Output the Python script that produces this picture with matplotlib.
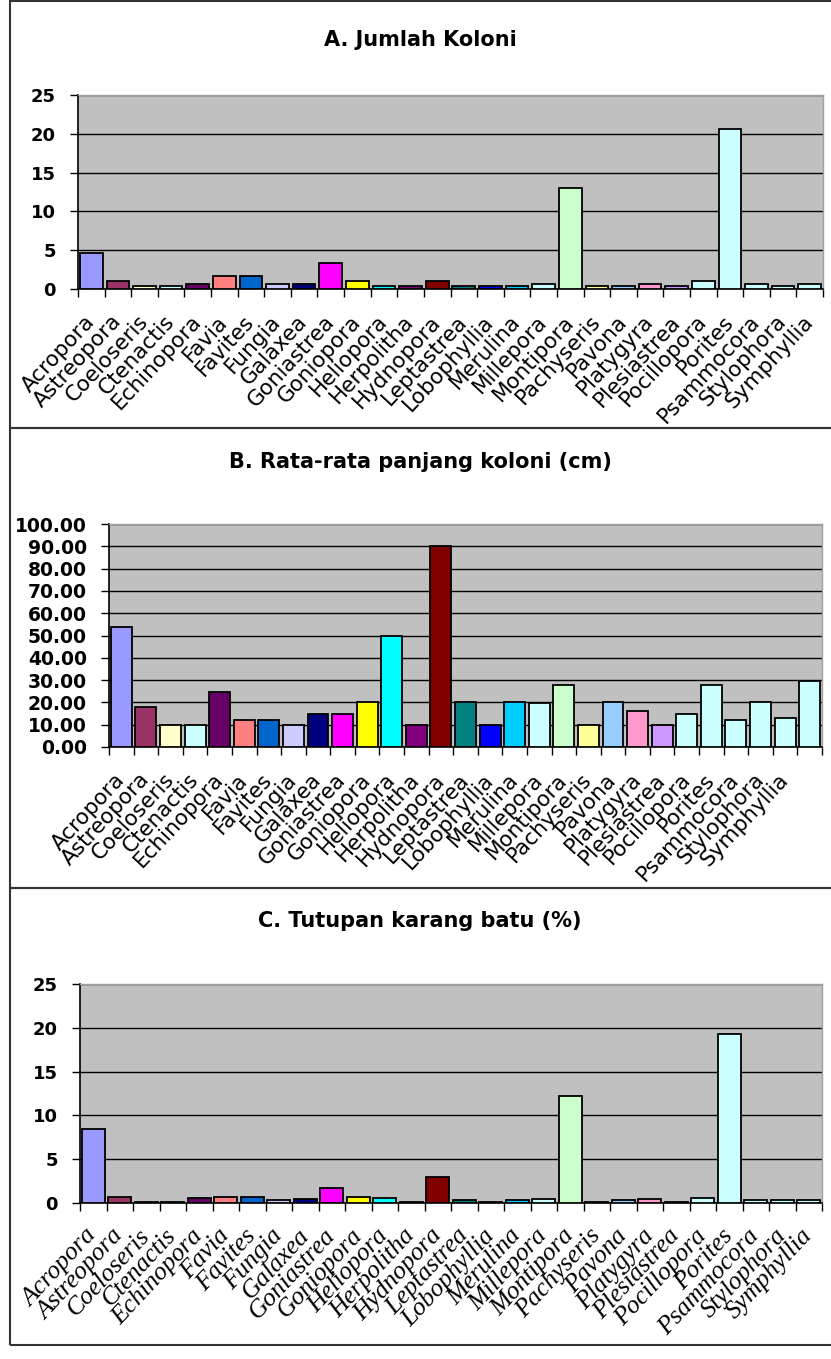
import numpy as np
import matplotlib
matplotlib.use("Agg")
import matplotlib.pyplot as plt
from matplotlib.patches import Rectangle
from matplotlib.ticker import FixedLocator, FormatStrFormatter

# ---------------- data ----------------
genera = ["Acropora", "Astreopora", "Coeloseris", "Ctenactis", "Echinopora", "Favia",
          "Favites", "Fungia", "Galaxea", "Goniastrea", "Goniopora", "Heliopora",
          "Herpolitha", "Hydnopora", "Leptastrea", "Lobophyllia", "Merulina", "Millepora",
          "Montipora", "Pachyseris", "Pavona", "Platygyra", "Plesiastrea", "Pocillopora",
          "Porites", "Psammocora", "Stylophora", "Symphyllia"]

bar_colors = ["#9999FF", "#993366", "#FFFFCC", "#CCFFFF", "#660066", "#FF8080",
              "#0066CC", "#CCCCFF", "#000080", "#FF00FF", "#FFFF00", "#00FFFF",
              "#800080", "#800000", "#008080", "#0000FF", "#00CCFF", "#CCFFFF",
              "#CCFFCC", "#FFFF99", "#99CCFF", "#FF99CC", "#CC99FF", "#CCFFFF",
              "#CCFFFF", "#CCFFFF", "#CCFFFF", "#CCFFFF"]

# A. Jumlah Koloni
jumlah_koloni = [4.67, 1.0, 0.33, 0.33, 0.67, 1.67, 1.67, 0.67, 0.67, 3.33, 1.0, 0.33,
                 0.33, 1.0, 0.33, 0.33, 0.33, 0.67, 13.0, 0.33, 0.33, 0.67, 0.33, 1.0,
                 20.67, 0.67, 0.33, 0.67]

# B. Rata-rata panjang koloni (cm) -- 29 bars, the last one has no label
panjang_labels = genera + [""]
panjang_colors = bar_colors + ["#CCFFFF"]
panjang_koloni = [54.0, 18.0, 10.0, 10.0, 24.7, 12.0, 12.0, 9.7, 15.0, 15.0, 20.0, 50.0,
                  10.0, 90.0, 20.0, 10.0, 20.0, 19.7, 28.0, 10.0, 20.0, 16.3, 10.0, 15.0,
                  28.0, 12.3, 20.0, 13.2, 29.5]

# C. Tutupan karang batu (%)
tutupan = [8.45, 0.68, 0.15, 0.15, 0.6, 0.68, 0.68, 0.3, 0.4, 1.71, 0.68, 0.6,
           0.15, 3.0, 0.3, 0.15, 0.3, 0.5, 12.24, 0.15, 0.3, 0.45, 0.15, 0.57,
           19.3, 0.38, 0.3, 0.38]

titles = ["A. Jumlah Koloni", "B. Rata-rata panjang koloni (cm)", "C. Tutupan karang batu (%)"]
yticks_A = [0, 5, 10, 15, 20, 25]
yticks_B = [0, 10, 20, 30, 40, 50, 60, 70, 80, 90, 100]
yticks_C = [0, 5, 10, 15, 20, 25]

# ---------------- layout ----------------
W, H = 831, 1359
fig = plt.figure(figsize=(W / 100, H / 100), dpi=100)
fig.patch.set_facecolor("white")


def rect(l, r, t, b):
    return [l / W, 1 - b / H, (r - l) / W, (b - t) / H]


def draw_panel(box, labels, values, colors, yticks, fmt, ysize, title, title_y,
               label_font, rot):
    ax = fig.add_axes(rect(*box))
    n = len(values)
    x = np.arange(n)
    ax.set_facecolor("#C0C0C0")
    ax.bar(x, values, width=0.85, color=colors, edgecolor="black", linewidth=1.3,
           zorder=3)
    ax.set_xlim(-0.5, n - 0.5)
    ax.set_ylim(yticks[0], yticks[-1])
    ax.yaxis.set_major_locator(FixedLocator(yticks))
    ax.yaxis.set_major_formatter(FormatStrFormatter(fmt))
    ax.grid(axis="y", color="black", linewidth=1.0, zorder=1)
    ax.set_axisbelow(True)
    for s in ["top", "right"]:
        ax.spines[s].set_color("#A0A0A0")
        ax.spines[s].set_linewidth(1.0)
    for s in ["left", "bottom"]:
        ax.spines[s].set_color("black")
        ax.spines[s].set_linewidth(1.2)
    ax.tick_params(axis="y", length=6, width=1.0, pad=10, labelsize=ysize)
    for t in ax.get_yticklabels():
        t.set_fontweight("bold")
        t.set_family("DejaVu Sans")
    # category ticks between bars
    ax.set_xticks(x)
    ax.set_xticklabels(labels, rotation=rot, ha="right", va="center",
                       rotation_mode="anchor", **label_font)
    ax.tick_params(axis="x", which="major", length=0, pad=21)
    ax.set_xticks(np.arange(n + 1) - 0.5, minor=True)
    ax.tick_params(axis="x", which="minor", length=6, width=1.0)
    fig.text(420 / W, 1 - title_y / H, title, ha="center", va="center",
             fontsize=15, fontweight="bold", family="DejaVu Sans")
    return ax


sans_lab = dict(fontsize=15.5, family="DejaVu Sans")
serif_lab = dict(fontsize=18.5, family="Liberation Serif", style="italic")

draw_panel((78, 823, 95, 289), genera, jumlah_koloni, bar_colors, yticks_A, "%d", 13,
           titles[0], 40, sans_lab, 47)
draw_panel((109, 822, 524, 747), panjang_labels, panjang_koloni, panjang_colors,
           yticks_B, "%.2f", 13.5, titles[1], 462, sans_lab, 47)
draw_panel((80, 822, 984, 1203), genera, tutupan, bar_colors, yticks_C, "%d", 13,
           titles[2], 921, serif_lab, 47)

# panel frames
for top, bottom in [(1, 428), (428, 888), (888, 1345)]:
    fig.add_artist(Rectangle((10 / W, 1 - bottom / H), (W + 5 - 10) / W,
                             (bottom - top) / H, transform=fig.transFigure,
                             fill=False, edgecolor="#333333", linewidth=1.5))

fig.savefig("out.png", dpi=100)
